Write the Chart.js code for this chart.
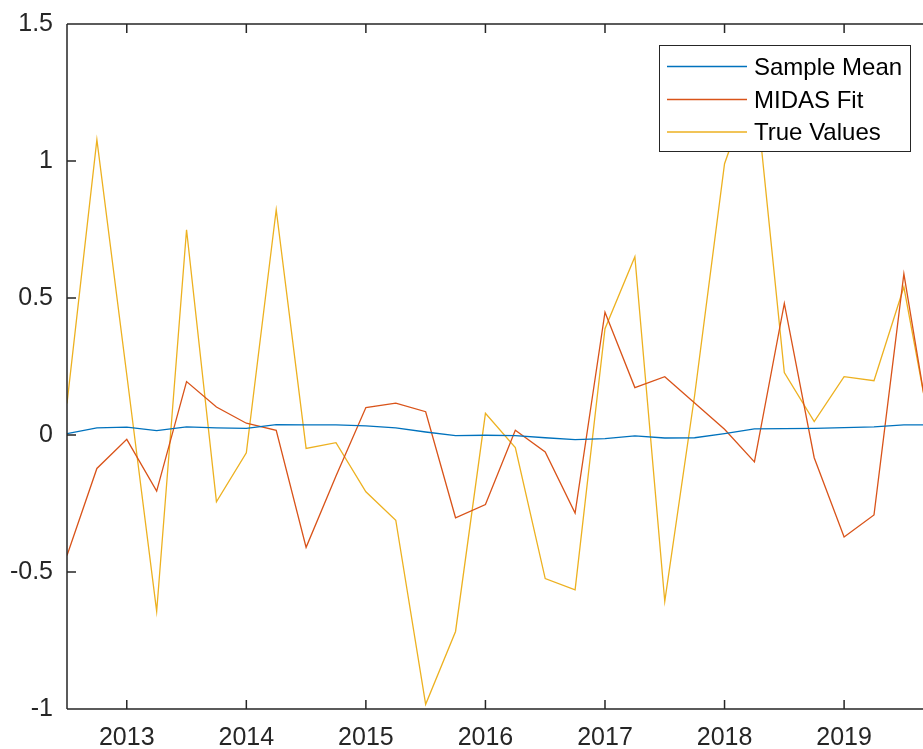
<!DOCTYPE html>
<html>
<head>
<meta charset="utf-8">
<script src="https://cdn.jsdelivr.net/npm/chart.js@4/dist/chart.umd.min.js"></script>
<style>
  html, body { margin: 0; padding: 0; background: #fff; overflow: hidden; }
  canvas { display: block; }
</style>
</head>
<body>
<canvas id="c" width="923" height="749"></canvas>
<script>
// ---- data ----
const quarters = [2012.5, 2012.75, 2013.0, 2013.25, 2013.5, 2013.75, 2014.0, 2014.25, 2014.5, 2014.75,
                  2015.0, 2015.25, 2015.5, 2015.75, 2016.0, 2016.25, 2016.5, 2016.75, 2017.0, 2017.25,
                  2017.5, 2017.75, 2018.0, 2018.25, 2018.5, 2018.75, 2019.0, 2019.25, 2019.5, 2019.75];
const sampleMean = [0.005, 0.026, 0.029, 0.016, 0.030, 0.026, 0.024, 0.038, 0.037, 0.037,
                    0.033, 0.026, 0.011, -0.002, -0.001, -0.002, -0.010, -0.017, -0.013, -0.003,
                    -0.011, -0.010, 0.005, 0.022, 0.023, 0.024, 0.027, 0.030, 0.037, 0.037];
const midasFit = [-0.44, -0.122, -0.016, -0.205, 0.195, 0.102, 0.043, 0.017, -0.41, -0.15,
                  0.100, 0.116, 0.085, -0.302, -0.254, 0.017, -0.062, -0.285, 0.448, 0.173,
                  0.213, 0.117, 0.021, -0.098, 0.480, -0.083, -0.372, -0.292, 0.588, -0.07];
const trueValues = [0.115, 1.078, 0.22, -0.644, 0.749, -0.244, -0.065, 0.822, -0.049, -0.028,
                    -0.207, -0.311, -0.983, -0.717, 0.079, -0.046, -0.524, -0.565, 0.388, 0.651,
                    -0.607, 0.145, 0.990, 1.300, 0.228, 0.049, 0.213, 0.198, 0.540, -0.05];
const seriesNames = ["Sample Mean", "MIDAS Fit", "True Values"];
const xTickValues = [2013, 2014, 2015, 2016, 2017, 2018, 2019];
const xTickLabels = ["2013", "2014", "2015", "2016", "2017", "2018", "2019"];
const yTickValues = [-1, -0.5, 0, 0.5, 1, 1.5];
const yTickLabels = ["-1", "-0.5", "0", "0.5", "1", "1.5"];

// ---- styles ----
const colors = ["#0072BD", "#D95319", "#EDB120"];
const FONT = "'Liberation Sans', Arial, Helvetica, sans-serif";
const AXIS = "#262626";

function pts(vals) { return vals.map((v, i) => ({ x: quarters[i], y: v })); }

const axesPlugin = {
  id: 'matlabAxes',
  afterDraw(chart) {
    const ctx = chart.ctx;
    const a = chart.chartArea;
    const xs = chart.scales.x, ys = chart.scales.y;
    const tl = 9;
    ctx.save();
    ctx.strokeStyle = AXIS;
    ctx.lineWidth = 1.5;
    ctx.beginPath();
    ctx.moveTo(a.left, a.top); ctx.lineTo(a.left, a.bottom);
    ctx.moveTo(a.left, a.bottom); ctx.lineTo(a.right, a.bottom);
    ctx.moveTo(a.left, a.top); ctx.lineTo(a.right, a.top);
    xTickValues.forEach(v => {
      const px = xs.getPixelForValue(v);
      ctx.moveTo(px, a.bottom); ctx.lineTo(px, a.bottom - tl);
      ctx.moveTo(px, a.top); ctx.lineTo(px, a.top + tl);
    });
    yTickValues.forEach(v => {
      const py = ys.getPixelForValue(v);
      ctx.moveTo(a.left, py); ctx.lineTo(a.left + tl, py);
    });
    ctx.stroke();

    // legend
    const bx = 659.5, by = 45.5, bw = 251, bh = 106;
    ctx.fillStyle = "#fff";
    ctx.fillRect(bx, by, bw, bh);
    ctx.strokeStyle = AXIS;
    ctx.lineWidth = 1;
    ctx.strokeRect(bx, by, bw, bh);
    const rows = [67, 100, 132.5];
    ctx.font = "24px " + FONT;
    ctx.textBaseline = "middle";
    ctx.textAlign = "left";
    chart.data.datasets.forEach((ds, i) => {
      ctx.strokeStyle = ds.borderColor;
      ctx.lineWidth = 1.3;
      ctx.beginPath();
      ctx.moveTo(667, rows[i] - 0.5); ctx.lineTo(747, rows[i] - 0.5);
      ctx.stroke();
      ctx.fillStyle = "#000";
      ctx.fillText(ds.label, 754, rows[i] + 1);
    });
    ctx.restore();
  }
};

new Chart(document.getElementById('c'), {
  type: 'line',
  data: {
    datasets: [
      { label: seriesNames[0], data: pts(sampleMean), borderColor: colors[0] },
      { label: seriesNames[1], data: pts(midasFit), borderColor: colors[1] },
      { label: seriesNames[2], data: pts(trueValues), borderColor: colors[2] }
    ].map(d => Object.assign(d, { borderWidth: 1.3, pointRadius: 0, tension: 0, fill: false }))
  },
  options: {
    responsive: false,
    animation: false,
    events: [],
    layout: { padding: { top: 24, right: 0, bottom: 0, left: 0 } },
    plugins: { legend: { display: false }, tooltip: { enabled: false } },
    scales: {
      x: {
        type: 'linear',
        min: 2012.5,
        max: 2019.66,
        grid: { display: false, drawTicks: false },
        border: { display: false },
        afterBuildTicks: s => { s.ticks = xTickValues.map(v => ({ value: v })); },
        afterFit: s => { s.height = 40; s.paddingLeft = 0; s.paddingRight = 0; },
        ticks: {
          padding: 14,
          color: AXIS,
          font: { family: FONT, size: 25 },
          maxRotation: 0,
          autoSkip: false,
          callback: (v) => xTickLabels[xTickValues.indexOf(v)]
        }
      },
      y: {
        type: 'linear',
        min: -1,
        max: 1.5,
        grid: { display: false, drawTicks: false },
        border: { display: false },
        afterBuildTicks: s => { s.ticks = yTickValues.map(v => ({ value: v })); },
        afterFit: s => { s.width = 67; s.paddingTop = 0; s.paddingBottom = 0; },
        ticks: {
          padding: 14,
          color: AXIS,
          font: { family: FONT, size: 25 },
          callback: (v) => yTickLabels[yTickValues.indexOf(v)]
        }
      }
    }
  },
  plugins: [axesPlugin]
});
</script>
</body>
</html>
